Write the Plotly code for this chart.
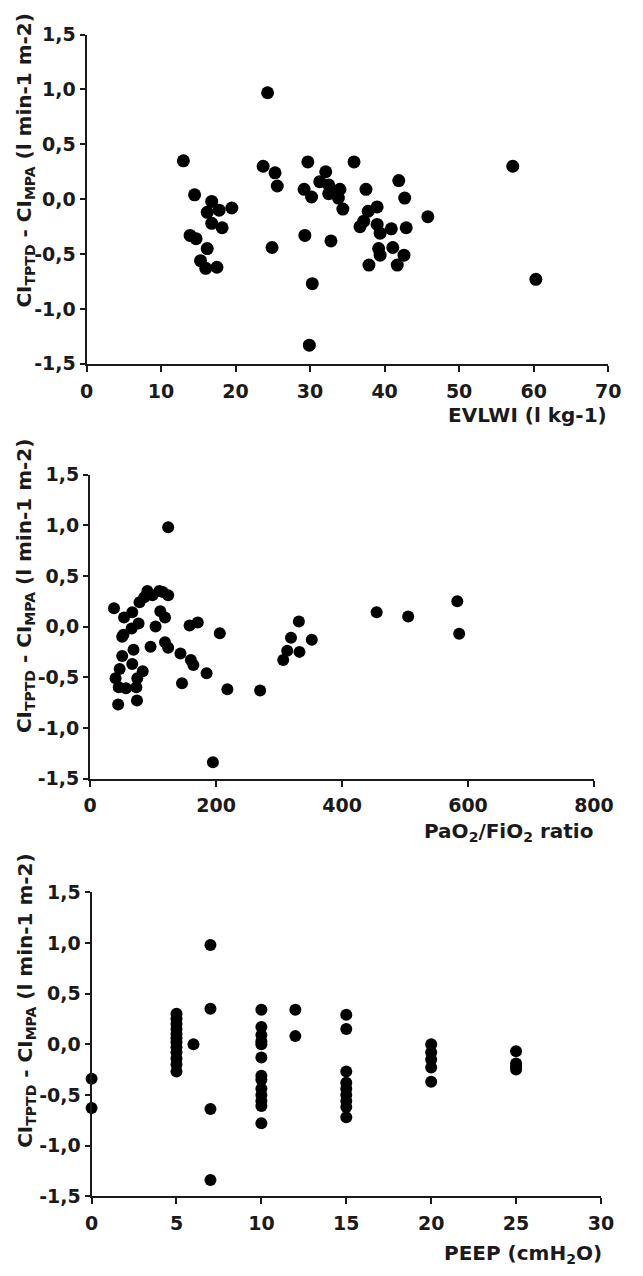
import plotly.graph_objects as go

# ---------------- data ----------------
evlwi = [13.0, 14.5, 16.8, 16.2, 17.8, 19.5, 16.8, 18.2, 13.9, 14.7, 16.2, 15.3, 16.0, 17.5,
         24.3, 23.7, 25.3, 25.6, 24.9, 29.7, 29.2, 30.2, 29.3, 30.3, 29.9, 32.1, 31.3, 32.5,
         32.5, 34.0, 33.8, 34.4, 32.8, 35.9, 37.5, 39.0, 37.8, 37.2, 36.7, 41.9, 42.7, 39.0,
         39.4, 40.9, 42.9, 45.8, 39.2, 39.4, 41.1, 42.6, 37.9, 41.7, 57.2, 60.3]
diff_evlwi = [0.35, 0.04, -0.02, -0.12, -0.10, -0.08, -0.22, -0.26, -0.33, -0.36, -0.45, -0.56, -0.63, -0.62,
              0.97, 0.30, 0.24, 0.12, -0.44, 0.34, 0.09, 0.02, -0.33, -0.77, -1.33, 0.25, 0.16, 0.13,
              0.05, 0.09, 0.01, -0.09, -0.38, 0.34, 0.09, -0.07, -0.11, -0.20, -0.25, 0.17, 0.01, -0.23,
              -0.31, -0.27, -0.26, -0.16, -0.45, -0.51, -0.44, -0.51, -0.60, -0.60, 0.30, -0.73]

pf_ratio = [124, 38, 54, 67, 77, 66, 51, 78.5, 91, 99, 110, 115.5, 124, 86, 111.5, 119, 104, 96,
            119, 124, 143.5, 160, 164, 158, 171, 206, 185, 218, 270, 146, 195, 69, 51, 67, 47,
            40.5, 45.6, 57, 73.5, 83.6, 75, 74.5, 44.6, 53, 306.6, 313, 319, 331.5, 332.5, 352,
            455, 505, 583, 586]
diff_pf = [0.98, 0.18, 0.09, 0.14, 0.03, -0.02, -0.10, 0.24, 0.35, 0.31, 0.35, 0.34, 0.31, 0.29,
           0.15, 0.09, 0.00, -0.20, -0.155, -0.21, -0.265, -0.33, -0.38, 0.01, 0.04, -0.065, -0.46,
           -0.62, -0.63, -0.56, -1.34, -0.23, -0.29, -0.37, -0.42, -0.51, -0.60, -0.61, -0.60, -0.44,
           -0.51, -0.73, -0.77, -0.08, -0.33, -0.24, -0.11, 0.05, -0.25, -0.13, 0.14, 0.10, 0.25, -0.07]

peep = [0, 0,
        5, 5, 5, 5, 5, 5, 5, 5, 5, 5, 5, 5,
        6,
        7, 7, 7, 7,
        10, 10, 10, 10, 10, 10, 10, 10, 10, 10, 10, 10, 10,
        12, 12,
        15, 15, 15, 15, 15, 15, 15, 15, 15,
        20, 20, 20, 20, 20,
        25, 25, 25, 25]
diff_peep = [-0.34, -0.63,
             0.30, 0.25, 0.20, 0.15, 0.10, 0.06, 0.02, -0.03, -0.08, -0.14, -0.20, -0.27,
             0.00,
             0.98, 0.35, -0.64, -1.34,
             0.34, 0.17, 0.09, 0.03, 0.00, -0.13, -0.31, -0.35, -0.44, -0.50, -0.56, -0.61, -0.78,
             0.34, 0.08,
             0.29, 0.15, -0.27, -0.38, -0.44, -0.50, -0.56, -0.62, -0.72,
             0.00, -0.08, -0.15, -0.23, -0.37,
             -0.07, -0.19, -0.22, -0.25]

y_tickvals = [-1.5, -1.0, -0.5, 0.0, 0.5, 1.0, 1.5]
y_ticktext = ["-1,5", "-1,0", "-0,5", "0,0", "0,5", "1,0", "1,5"]
x1_ticks = [0, 10, 20, 30, 40, 50, 60, 70]
x2_ticks = [0, 200, 400, 600, 800]
x3_ticks = [0, 5, 10, 15, 20, 25, 30]

y_title = "CI<sub>TPTD</sub> - CI<sub>MPA</sub> (l min-1 m-2)"
x1_title = "EVLWI (l kg-1)"
x2_title = "PaO<sub>2</sub>/FiO<sub>2</sub> ratio"
x3_title = "PEEP (cmH<sub>2</sub>O)"

# ---------------- figure ----------------
W, H = 643, 1276
INK = "#1a1a1a"
FONT = "DejaVu Sans"
TICK_SIZE = 19
TITLE_SIZE = 20


def px_x(p):
    return p / W


def px_y(p):
    return 1 - p / H


def xaxis(dom, rng, ticks, anchor):
    return dict(domain=[px_x(dom[0]), px_x(dom[1])], range=rng, anchor=anchor,
                tickmode="array", tickvals=ticks, ticktext=[str(t) for t in ticks],
                showline=True, linecolor=INK, linewidth=2, ticks="outside", ticklen=6,
                tickwidth=2, tickcolor=INK, showgrid=False, zeroline=False,
                ticklabelstandoff=3,
                tickfont=dict(family=FONT, size=TICK_SIZE, color=INK, weight="bold"))


def yaxis(dom, anchor):
    return dict(domain=[px_y(dom[1]), px_y(dom[0])], range=[-1.5, 1.5], anchor=anchor,
                tickmode="array", tickvals=y_tickvals, ticktext=y_ticktext,
                showline=True, linecolor=INK, linewidth=2, ticks="outside", ticklen=5,
                tickwidth=2, tickcolor=INK, showgrid=False, zeroline=False,
                tickfont=dict(family=FONT, size=TICK_SIZE, color=INK, weight="bold"))


fig = go.Figure()
fig.add_trace(go.Scatter(x=evlwi, y=diff_evlwi, mode="markers", xaxis="x", yaxis="y",
                         marker=dict(color="black", size=13), cliponaxis=False))
fig.add_trace(go.Scatter(x=pf_ratio, y=diff_pf, mode="markers", xaxis="x2", yaxis="y2",
                         marker=dict(color="black", size=12), cliponaxis=False))
fig.add_trace(go.Scatter(x=peep, y=diff_peep, mode="markers", xaxis="x3", yaxis="y3",
                         marker=dict(color="black", size=12), cliponaxis=False))

panels = [
    ((83, 627.5), (24, 359), [0, 70], x1_ticks),
    ((86.7, 612.7), (471.7, 781), [0, 800], x2_ticks),
    ((88.3, 620), (896.7, 1206), [0, 30], x3_ticks),
]

layout = dict(width=W, height=H, margin=dict(l=0, r=0, t=0, b=0),
              paper_bgcolor="white", plot_bgcolor="white", showlegend=False)
for i, (xd, yd, xr, xt) in enumerate(panels, start=1):
    sfx = "" if i == 1 else str(i)
    layout["xaxis" + sfx] = xaxis(xd, xr, xt, "y" + sfx)
    layout["yaxis" + sfx] = yaxis(yd, "x" + sfx)
fig.update_layout(**layout)

title_font = dict(family=FONT, size=TITLE_SIZE, color=INK, weight="bold")
annotations = []
ytitle_centers = [152, 585, 1007]
for yc in ytitle_centers:
    annotations.append(dict(text=y_title, x=px_x(19), y=px_y(yc), xref="paper", yref="paper",
                            xanchor="center", yanchor="middle", textangle=-90,
                            showarrow=False, font=title_font))
xtitles = [(x1_title, 628, 411), (x2_title, 614, 835), (x3_title, 623, 1265)]
for txt, xr, yc in xtitles:
    annotations.append(dict(text=txt, x=px_x(xr), y=px_y(yc), xref="paper", yref="paper",
                            xanchor="right", yanchor="middle", showarrow=False, font=title_font))
fig.update_layout(annotations=annotations)

fig.write_html("out.html")
